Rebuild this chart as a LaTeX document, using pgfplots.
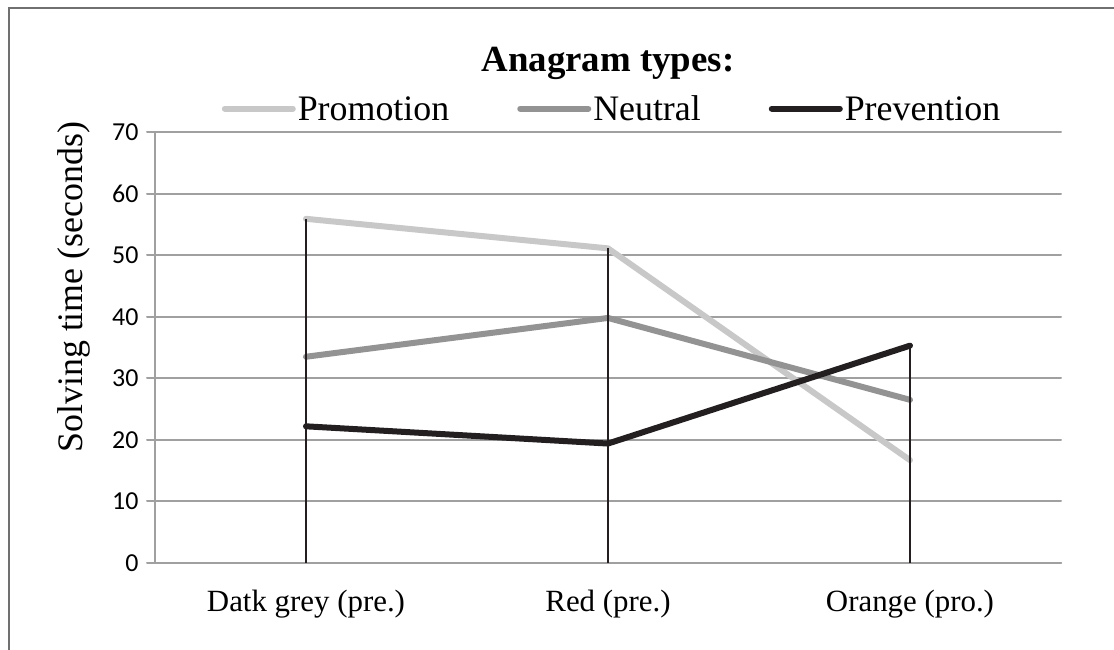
\documentclass[border=0pt]{standalone}
\usepackage{fontspec}
\setmainfont{Liberation Serif}
\newfontfamily\carlito{Carlito}
\usepackage{pgfplots}
\pgfplotsset{compat=1.18}
\definecolor{promo}{HTML}{C8C8C8}
\definecolor{neutral}{HTML}{939393}
\definecolor{prev}{HTML}{231F20}
\definecolor{gridc}{HTML}{A0A0A0}
\definecolor{framec}{HTML}{707070}
\begin{document}
\begin{tikzpicture}
\path[use as bounding box] (-155bp,-87bp) rectangle (959bp,563bp);
\draw[framec, line width=2bp] (-146bp,-95bp) -- (-146bp,555bp) -- (965bp,555bp);
\begin{axis}[
  at={(0,0)}, anchor=south west,
  scale only axis, width=906bp, height=431bp,
  xmin=-0.5, xmax=2.5, ymin=0, ymax=70,
  xtick={0,1,2},
  xticklabels={Datk grey (pre.), Red (pre.), Orange (pro.)},
  ytick={0,10,...,70},
  axis x line*=bottom, axis y line*=left,
  axis line style={gridc, line width=2bp},
  ymajorgrids, grid style={gridc, line width=2bp},
  xtick style={draw=none},
  ytick style={gridc, line width=2bp},
  tick align=outside, major tick length=8bp,
  /pgf/number format/assume math mode=true,
  yticklabel style={font=\carlito\fontsize{26}{26}\selectfont, xshift=-5bp},
  xticklabel style={font=\fontsize{31}{31}\selectfont, anchor=base, yshift=-40bp},
  ylabel={Solving time (seconds)},
  ylabel style={font=\fontsize{36}{36}\selectfont, at={(axis description cs:-0.0795,0.64)}, anchor=base},
  title={\textbf{Anagram types:}},
  title style={font=\fontsize{37}{37}\selectfont, at={(axis description cs:0.5,1)}, anchor=base, yshift=55bp},
  legend columns=3,
  legend style={at={(axis description cs:0.5,1)}, anchor=south, yshift=8bp, xshift=4bp, draw=none, fill=none,
    inner sep=0pt, font=\fontsize{36}{36}\selectfont,
    nodes={inner sep=2bp},
    /tikz/every even column/.append style={column sep=66bp}},
  legend image code/.code={\draw[#1, line width=6bp, line cap=round] (0bp,0bp) -- (68bp,0bp);},
  line join=round, line cap=round,
]
\addplot[promo, line width=6bp] coordinates {(0,55.9) (1,51.1) (2,16.7)};
\addlegendentry{\vphantom{Nl}Promotion}
\addplot[neutral, line width=6bp] coordinates {(0,33.5) (1,39.8) (2,26.5)};
\addlegendentry{\vphantom{Nl}Neutral}
\addplot[prev, line width=6bp] coordinates {(0,22.2) (1,19.4) (2,35.3)};
\addlegendentry{\vphantom{Nl}Prevention}
\addplot[prev, line width=2bp, ycomb, line cap=butt, forget plot] coordinates {(0,55.9) (1,51.1) (2,35.3)};
\end{axis}
\end{tikzpicture}
\end{document}
